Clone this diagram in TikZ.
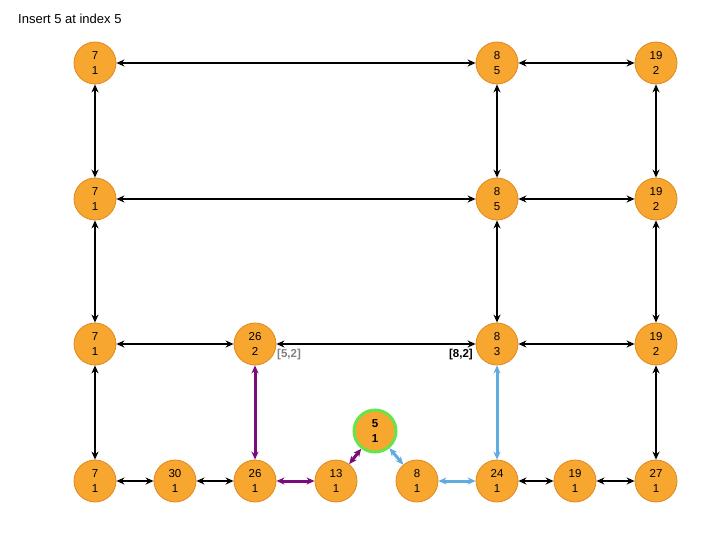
\documentclass[tikz,border=0pt]{standalone}
\usepackage{fontspec}
\setmainfont{Liberation Sans}
\usetikzlibrary{arrows.meta}

\definecolor{skipfill}{RGB}{247,166,48}
\definecolor{skipedge}{RGB}{222,136,30}
\definecolor{pathpurple}{RGB}{122,12,122}
\definecolor{pathblue}{RGB}{96,172,222}
\definecolor{newgreen}{RGB}{102,228,72}

\tikzset{
  skipnode/.style={circle,fill=skipfill,draw=skipedge,line width=0.8pt,minimum size=42pt,inner sep=0pt,
    align=center,font=\fontsize{11.5}{15}\selectfont},
  newnode/.style={skipnode,draw=newgreen,line width=3pt,font=\fontsize{11.5}{15}\selectfont\bfseries},
  link/.style={{Stealth[length=8pt,width=7pt]}-{Stealth[length=8pt,width=7pt]},line width=2pt},
  purplelink/.style={link,draw=pathpurple,line width=3pt},
  bluelink/.style={link,draw=pathblue,line width=3pt},
}

\begin{document}
\begin{tikzpicture}[x=1pt,y=-1pt]
\useasboundingbox (0,0) rectangle (720,540);

% title
\node[anchor=base west,inner sep=0pt,font=\fontsize{13}{15}\selectfont] (title) at (18,24) {Insert 5 at index 5};

% level 3
\node[skipnode] (a1) at (95,63) {7\\1};
\node[skipnode] (a6) at (497,63) {8\\5};
\node[skipnode] (a8) at (656,63) {19\\2};

% level 2
\node[skipnode] (b1) at (95,199) {7\\1};
\node[skipnode] (b6) at (497,199) {8\\5};
\node[skipnode] (b8) at (656,199) {19\\2};

% level 1
\node[skipnode] (c1) at (95,344) {7\\1};
\node[skipnode] (c3) at (255,344) {26\\2};
\node[skipnode] (c6) at (497,344) {8\\3};
\node[skipnode] (c8) at (656,344) {19\\2};

% level 0
\node[skipnode] (d1) at (95,481) {7\\1};
\node[skipnode] (d2) at (175,481) {30\\1};
\node[skipnode] (d3) at (255,481) {26\\1};
\node[skipnode] (d4) at (336,481) {13\\1};
\node[skipnode] (d5) at (417,481) {8\\1};
\node[skipnode] (d6) at (497,481) {24\\1};
\node[skipnode] (d7) at (575,481) {19\\1};
\node[skipnode] (d8) at (656,481) {27\\1};

% inserted node
\node[newnode] (new) at (375,431) {5\\1};

% span labels
\node[anchor=west,inner sep=0pt,text=gray,font=\fontsize{11.5}{14}\selectfont\bfseries] (spanleft) at (277,355) {[5,2]};
\node[anchor=east,inner sep=0pt,font=\fontsize{11.5}{14}\selectfont\bfseries] (spanright) at (473,355) {[8,2]};

% horizontal links
\draw[link] (a1) -- (a6);
\draw[link] (a6) -- (a8);
\draw[link] (b1) -- (b6);
\draw[link] (b6) -- (b8);
\draw[link] (c1) -- (c3);
\draw[link] (c3) -- (c6);
\draw[link] (c6) -- (c8);
\draw[link] (d1) -- (d2);
\draw[link] (d2) -- (d3);
\draw[link] (d6) -- (d7);
\draw[link] (d7) -- (d8);

% vertical links
\draw[link] (a1) -- (b1);
\draw[link] (a6) -- (b6);
\draw[link] (a8) -- (b8);
\draw[link] (b1) -- (c1);
\draw[link] (b6) -- (c6);
\draw[link] (b8) -- (c8);
\draw[link] (c1) -- (d1);
\draw[link] (c8) -- (d8);

% links changed by the insert
\draw[purplelink] (c3) -- (d3);
\draw[purplelink] (d3) -- (d4);
\draw[purplelink] (d4) -- (new);
\draw[bluelink] (new) -- (d5);
\draw[bluelink] (d5) -- (d6);
\draw[bluelink] (c6) -- (d6);

\end{tikzpicture}
\end{document}
